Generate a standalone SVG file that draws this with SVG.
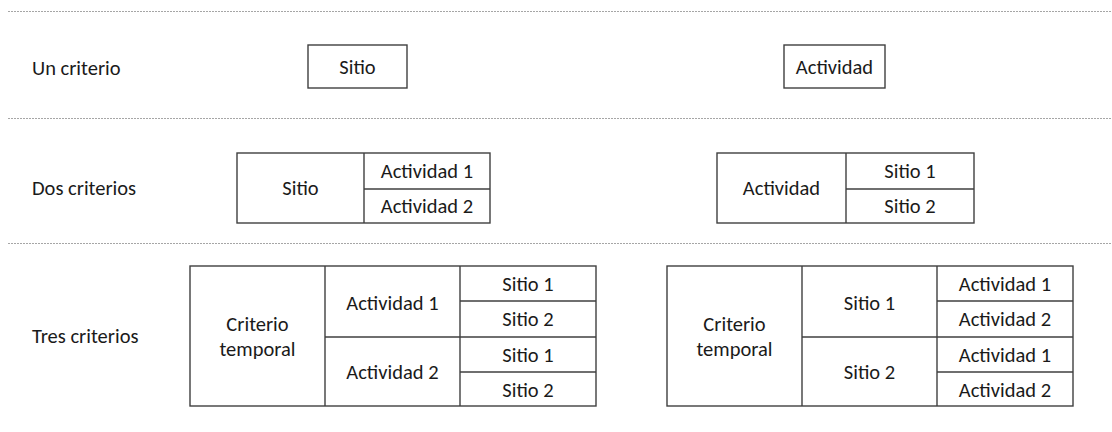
<svg xmlns="http://www.w3.org/2000/svg" width="1112" height="432" viewBox="0 0 1112 432">
  <style>
    .sep { stroke: #a6a6a6; stroke-width: 1; stroke-dasharray: 2 1; fill: none; }
    .box { fill: #ffffff; stroke: #3f3f3f; stroke-width: 1.4; }
    .div { stroke: #3f3f3f; stroke-width: 1.4; fill: none; }
    text { font-family: Carlito, Lato, "Open Sans", sans-serif; font-size: 20.5px; fill: #1a1a1a; }
    .c { text-anchor: middle; }
  </style>

  <!-- row separators -->
  <g id="separators">
    <line class="sep" x1="8" y1="11.5" x2="1112" y2="11.5"/>
    <line class="sep" x1="8" y1="118.5" x2="1112" y2="118.5"/>
    <line class="sep" x1="8" y1="243.5" x2="1112" y2="243.5"/>
  </g>

  <!-- row labels -->
  <g id="labels">
    <text x="32" y="75">Un criterio</text>
    <text x="32" y="195">Dos criterios</text>
    <text x="32" y="343">Tres criterios</text>
  </g>

  <!-- one criterion -->
  <g id="uno-sitio">
    <rect class="box" x="308" y="45" width="99" height="43"/>
    <text class="c" x="357.5" y="74">Sitio</text>
  </g>
  <g id="uno-actividad">
    <rect class="box" x="784" y="45" width="101" height="43"/>
    <text class="c" x="834.5" y="74">Actividad</text>
  </g>

  <!-- two criteria -->
  <g id="dos-sitio">
    <rect class="box" x="237" y="153" width="253" height="70"/>
    <line class="div" x1="364" y1="153" x2="364" y2="223"/>
    <line class="div" x1="364" y1="189" x2="490" y2="189"/>
    <text class="c" x="300.5" y="195">Sitio</text>
    <text class="c" x="427" y="178">Actividad 1</text>
    <text class="c" x="427" y="213">Actividad 2</text>
  </g>
  <g id="dos-actividad">
    <rect class="box" x="717" y="153" width="257" height="70"/>
    <line class="div" x1="846" y1="153" x2="846" y2="223"/>
    <line class="div" x1="846" y1="189" x2="974" y2="189"/>
    <text class="c" x="781.5" y="195">Actividad</text>
    <text class="c" x="910" y="178">Sitio 1</text>
    <text class="c" x="910" y="213">Sitio 2</text>
  </g>

  <!-- three criteria -->
  <g id="tres-actividad-sitio">
    <rect class="box" x="190" y="266" width="406" height="140"/>
    <line class="div" x1="325" y1="266" x2="325" y2="406"/>
    <line class="div" x1="460" y1="266" x2="460" y2="406"/>
    <line class="div" x1="325" y1="337" x2="596" y2="337"/>
    <line class="div" x1="460" y1="301" x2="596" y2="301"/>
    <line class="div" x1="460" y1="372" x2="596" y2="372"/>
    <text class="c" x="257.5" y="331">Criterio</text>
    <text class="c" x="257.5" y="356">temporal</text>
    <text class="c" x="392.5" y="310">Actividad 1</text>
    <text class="c" x="392.5" y="379">Actividad 2</text>
    <text class="c" x="528" y="291">Sitio 1</text>
    <text class="c" x="528" y="326">Sitio 2</text>
    <text class="c" x="528" y="362">Sitio 1</text>
    <text class="c" x="528" y="397">Sitio 2</text>
  </g>
  <g id="tres-sitio-actividad">
    <rect class="box" x="667" y="266" width="406" height="140"/>
    <line class="div" x1="802" y1="266" x2="802" y2="406"/>
    <line class="div" x1="937" y1="266" x2="937" y2="406"/>
    <line class="div" x1="802" y1="337" x2="1073" y2="337"/>
    <line class="div" x1="937" y1="301" x2="1073" y2="301"/>
    <line class="div" x1="937" y1="372" x2="1073" y2="372"/>
    <text class="c" x="734.5" y="331">Criterio</text>
    <text class="c" x="734.5" y="356">temporal</text>
    <text class="c" x="869.5" y="310">Sitio 1</text>
    <text class="c" x="869.5" y="379">Sitio 2</text>
    <text class="c" x="1005" y="291">Actividad 1</text>
    <text class="c" x="1005" y="326">Actividad 2</text>
    <text class="c" x="1005" y="362">Actividad 1</text>
    <text class="c" x="1005" y="397">Actividad 2</text>
  </g>
</svg>
